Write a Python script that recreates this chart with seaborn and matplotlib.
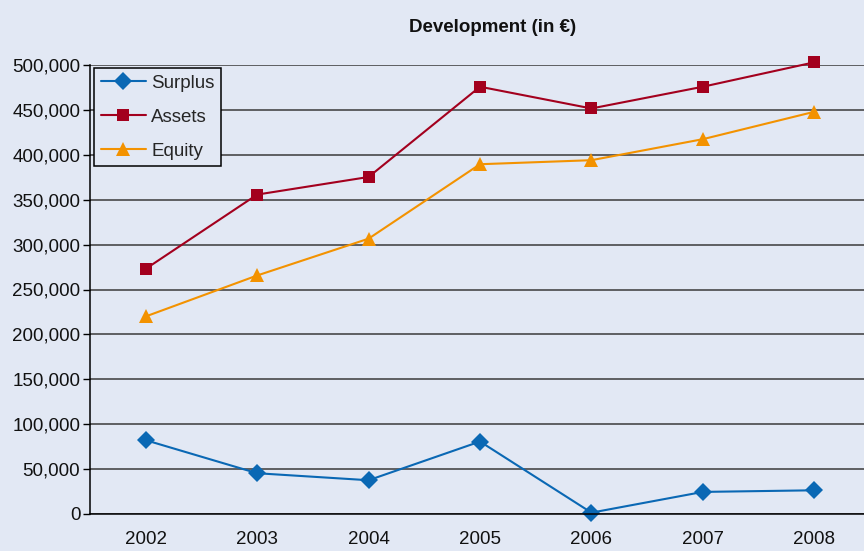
import matplotlib
matplotlib.use("Agg")
import matplotlib.pyplot as plt
from matplotlib.ticker import FuncFormatter, MultipleLocator, FixedLocator
import seaborn as sns
import pandas as pd

years = ["2002", "2003", "2004", "2005", "2006", "2007", "2008"]
surplus = [82200, 45400, 37600, 80700, 1500, 24600, 26400]
assets = [273000, 355700, 375300, 475800, 451600, 475800, 503000]
equity = [220000, 265600, 306600, 389500, 394000, 417400, 447900]

series_names = ["Surplus", "Assets", "Equity"]
series_colors = ["#0a68b4", "#a3001e", "#f39200"]
series_markers = ["D", "s", "^"]

frames = []
for name, vals in zip(series_names, [surplus, assets, equity]):
    frames.append(pd.DataFrame({"Year": years, "Value": vals, "Series": name}))
df = pd.concat(frames, ignore_index=True)

sns.set_theme(style="white")
plt.rcParams["font.family"] = ["Liberation Sans", "DejaVu Sans"]

bg = "#e2e8f4"
fig = plt.figure(figsize=(8.64, 5.51), dpi=100, facecolor=bg)
ax = fig.add_axes([90 / 864, 1 - 514 / 551, 780 / 864, (514 - 65) / 551])
ax.set_facecolor(bg)

sns.lineplot(
    data=df, x="Year", y="Value", hue="Series", style="Series",
    hue_order=series_names, style_order=series_names,
    palette=dict(zip(series_names, series_colors)),
    markers=dict(zip(series_names, series_markers)),
    dashes=False, markersize=9, linewidth=1.5, markeredgewidth=0,
    sort=False, ax=ax,
)
for line in ax.get_lines():
    line.set_clip_on(False)
    if line.get_marker() == "^":
        line.set_markersize(10.5)

ax.set_xlim(-0.5, 6.5)
ax.set_ylim(0, 500000)
ax.yaxis.set_major_locator(MultipleLocator(50000))
ax.yaxis.set_major_formatter(FuncFormatter(lambda v, p: f"{int(v):,}"))
ax.grid(axis="y", color="#3a3a3a", linewidth=1.1)
ax.grid(axis="x", visible=False)
ax.set_axisbelow(True)

ax.xaxis.set_minor_locator(FixedLocator([i - 0.5 for i in range(8)]))
ax.tick_params(axis="x", which="major", length=0, pad=12, labelsize=13.5, colors="#111111")
ax.tick_params(axis="x", which="minor", length=5, width=1, color="black", direction="out")
ax.tick_params(axis="y", which="major", length=5, width=1, color="black", direction="out",
               labelsize=13.5, pad=2, labelcolor="#111111", left=True)

for side in ["top", "right"]:
    ax.spines[side].set_visible(False)
for side in ["left", "bottom"]:
    ax.spines[side].set_color("black")
    ax.spines[side].set_linewidth(1.1)

ax.set_xlabel("")
ax.set_ylabel("")

leg = ax.legend(loc="upper left", bbox_to_anchor=(4 / 780, 1 - 3 / 449), frameon=True,
                fancybox=False, edgecolor="black", facecolor=bg, framealpha=1,
                fontsize=13.5, handlelength=2.4, borderpad=0.35, labelspacing=0.9,
                handletextpad=0.3, borderaxespad=0)
leg.get_frame().set_linewidth(1.1)
for h in leg.legend_handles:
    if h.get_marker() == "^":
        h.set_markersize(10.5)

fig.text(493 / 864, 1 - 27 / 551, "Development (in \u20ac)", ha="center", va="center",
         fontsize=13.5, fontweight="bold", color="#111111")

fig.savefig("out.png", dpi=100, facecolor=bg)
